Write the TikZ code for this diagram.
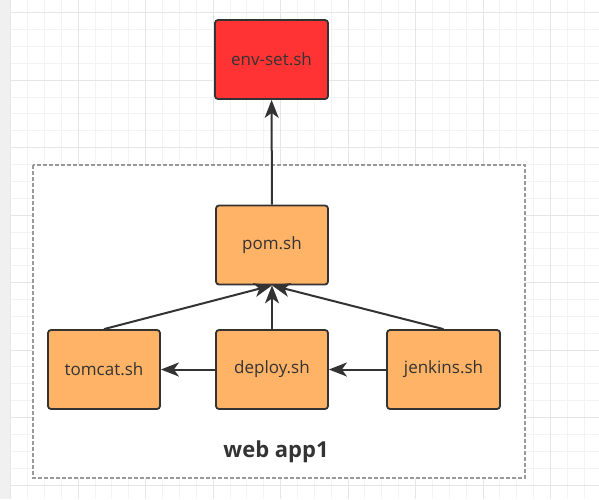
\documentclass[tikz,border=0pt]{standalone}
\usepackage{fontspec}
\setmainfont{Open Sans}
\usetikzlibrary{arrows.meta}
\definecolor{ink}{HTML}{333333}
\definecolor{shfill}{HTML}{FFB366}
\definecolor{envfill}{HTML}{FF3333}
\definecolor{gridminor}{HTML}{F3F3F3}
\definecolor{gridmajor}{HTML}{E6E6E6}
\definecolor{sidebar}{HTML}{F0F0F0}
\definecolor{groupline}{HTML}{999999}

\begin{document}
\begin{tikzpicture}[x=1pt,y=-1pt,
  script/.style={draw=ink,line width=1.8pt,rounded corners=3pt,fill=shfill,
    minimum width=112pt,minimum height=79pt,text=ink,font=\fontsize{17}{20}\selectfont},
  link/.style={draw=ink,line width=2pt,-{Stealth[length=18pt,width=14pt,inset=5pt]}},
  group/.style={draw=groupline,fill=white,line width=1.5pt,dash pattern=on 4pt off 2pt}]
\useasboundingbox (0,0) rectangle (599,499);
\fill[white] (0,0) rectangle (599,499);
\foreach \i in {0,...,34}
  \draw[gridminor,line width=1pt] ({10.7+16.87*\i},0) -- ({10.7+16.87*\i},499);
\foreach \j in {0,...,28}
  \draw[gridminor,line width=1pt] (0,{12.7+16.87*\j}) -- (599,{12.7+16.87*\j});
\foreach \i in {0,4,...,32}
  \draw[gridmajor,line width=1pt] ({10.7+16.87*\i},0) -- ({10.7+16.87*\i},499);
\foreach \j in {0,4,...,28}
  \draw[gridmajor,line width=1pt] (0,{12.7+16.87*\j}) -- (599,{12.7+16.87*\j});
\fill[sidebar] (0,0) rectangle (10,499);
\draw[group] (33,165) rectangle (525,478);
\node (envset) [script,fill=envfill,minimum width=113pt] at (271.5,59.5) {env-set.sh};
\node (pom) [script] at (272,245) {pom.sh};
\node (tomcat) [script] at (104,369.5) {tomcat.sh};
\node (deploy) [script] at (272,369.5) {deploy.sh};
\node (jenkins) [script,minimum width=113pt] at (443.5,369.5) {jenkins.sh};
\node (app) [text=ink,font=\fontsize{22}{26}\selectfont\bfseries] at (276,452) {web app1};
\draw[link] (pom) -- (envset);
\draw[link] (tomcat.north) -- (pom.south);
\draw[link] (deploy) -- (pom);
\draw[link] (jenkins.north) -- (pom.south);
\draw[link] (deploy) -- (tomcat);
\draw[link] (jenkins) -- (deploy);
\end{tikzpicture}
\end{document}
